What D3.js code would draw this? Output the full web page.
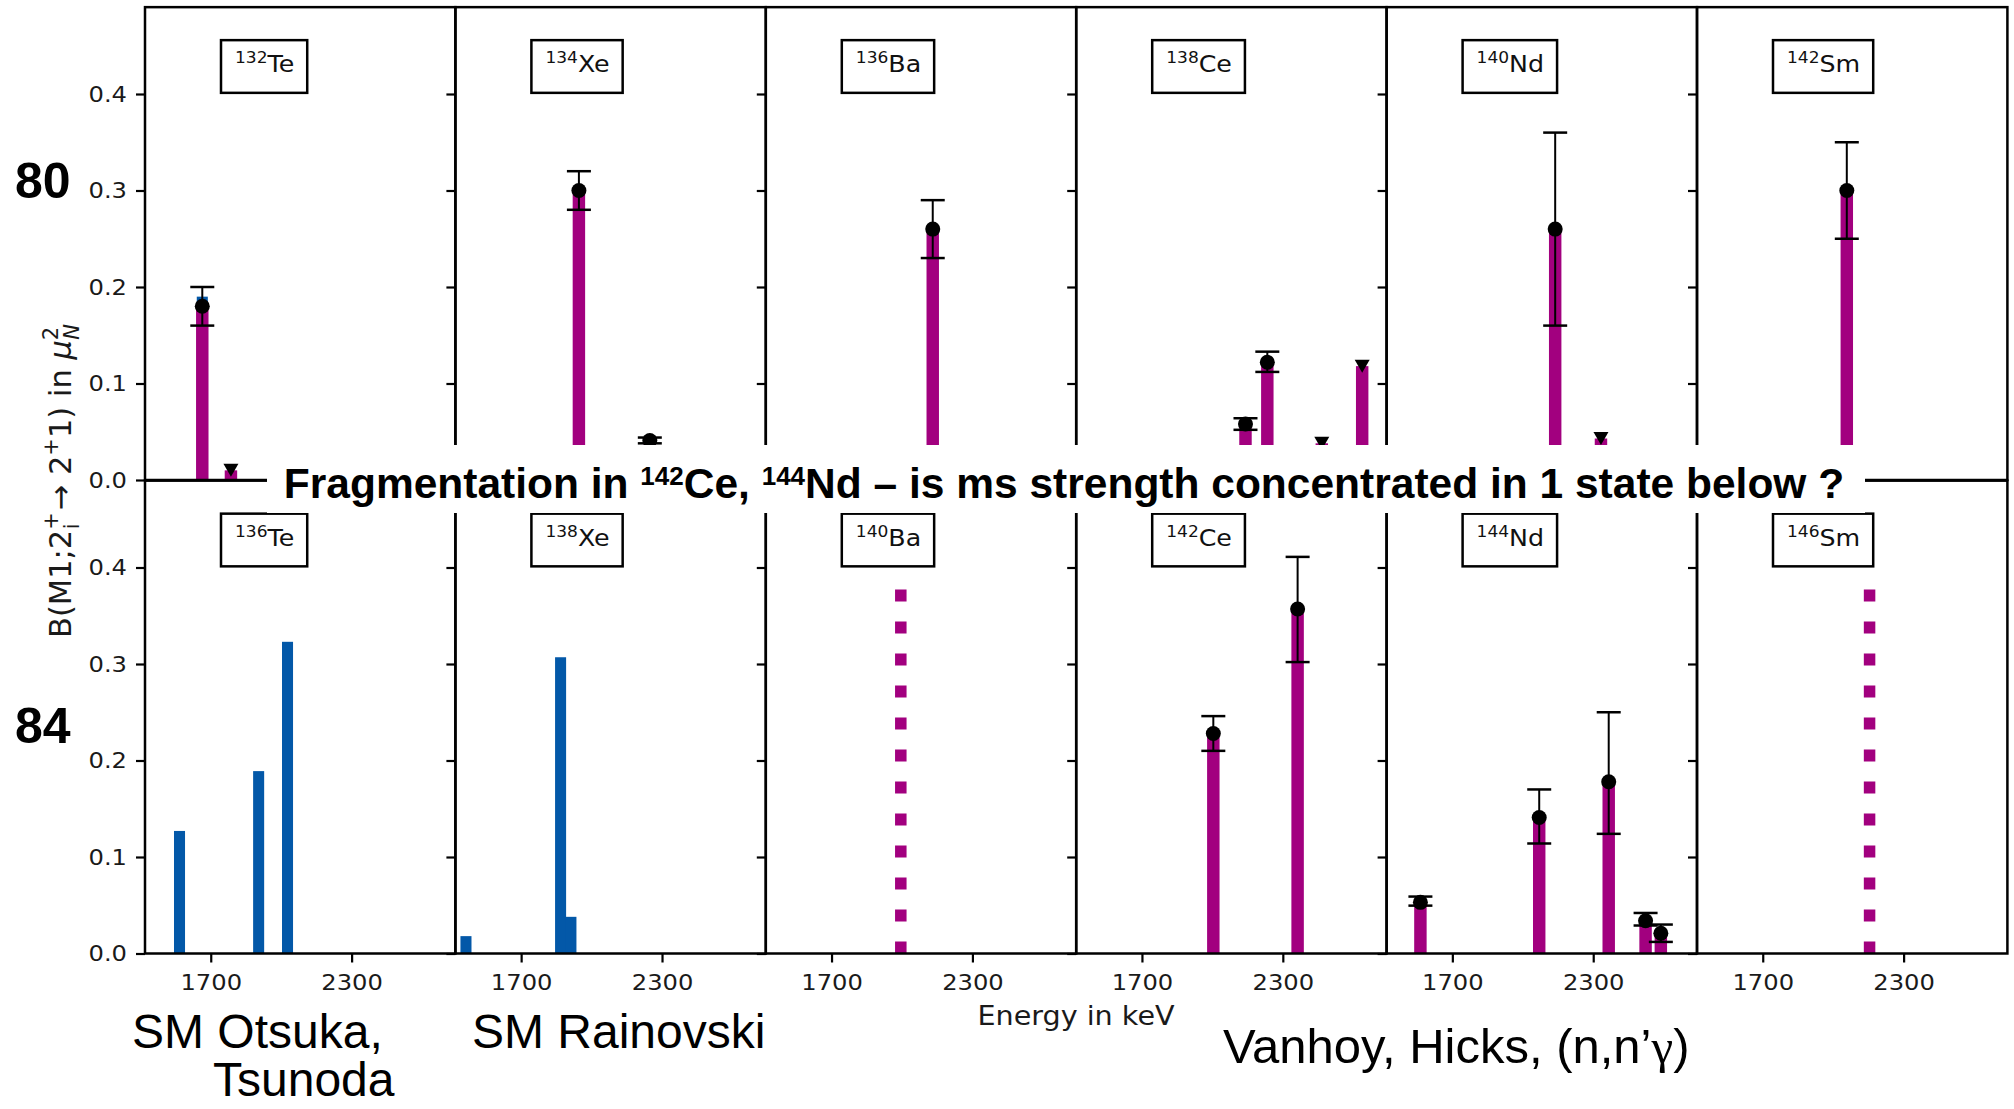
<!DOCTYPE html>
<html><head><meta charset="utf-8">
<script src="https://cdn.jsdelivr.net/npm/d3@7"></script>
<style>body{margin:0;background:#fff}svg{display:block}</style>
</head><body>
<svg id="chart" width="2014" height="1109"></svg>
<script>
// ---------- data ----------
const energyDomain = [1420, 2742];
const bDomain = [0, 0.49];
const yTicks = [0, 0.1, 0.2, 0.3, 0.4];
const xTicks = [1700, 2300];
const topMass = ["132", "134", "136", "138", "140", "142"];
const botMass = ["136", "138", "140", "142", "144", "146"];
const elements = ["Te", "Xe", "Ba", "Ce", "Nd", "Sm"];
const rowLabels = ["80", "84"];
// shell-model bars: [row, panel, energy keV, B(M1)]
const smBars = [
  [0, 0, 1664, 0.19],
  [1, 0, 1567, 0.127], [1, 0, 1904, 0.189], [1, 0, 2027, 0.323],
  [1, 1, 1465, 0.018], [1, 1, 1868, 0.307], [1, 1, 1912, 0.038]
];
// measured values: [row, panel, energy keV, B(M1), lower, upper]
const expPoints = [
  [0, 0, 1664, 0.18, 0.16, 0.20],
  [0, 1, 1946, 0.30, 0.28, 0.32],
  [0, 1, 2248, 0.041, 0.038, 0.044],
  [0, 2, 2131, 0.26, 0.23, 0.29],
  [0, 3, 2141, 0.058, 0.052, 0.064],
  [0, 3, 2234, 0.122, 0.112, 0.133],
  [0, 4, 2138, 0.26, 0.16, 0.36],
  [0, 5, 2058, 0.30, 0.25, 0.35],
  [1, 3, 2004, 0.228, 0.210, 0.246],
  [1, 3, 2363, 0.357, 0.302, 0.411],
  [1, 4, 1564, 0.053, 0.0496, 0.059],
  [1, 4, 2070, 0.141, 0.114, 0.170],
  [1, 4, 2366, 0.178, 0.124, 0.250],
  [1, 4, 2523, 0.034, 0.029, 0.042],
  [1, 4, 2588, 0.021, 0.012, 0.030]
];
// upper limits: [row, panel, energy keV, B(M1)]
const expLimits = [
  [0, 0, 1786, 0.010], [0, 3, 2466, 0.038], [0, 3, 2638, 0.118], [0, 4, 2333, 0.043]
];
// expected (unmeasured) states: [row, panel, energy keV, B(M1)]
const expectedLines = [[1, 2, 1995, 0.38], [1, 5, 2155, 0.38]];

// ---------- layout ----------
const MAG = "#a2007f", BLUE = "#0358a8";
const plotLeft = 145, panelW = 310.4, nPanels = 6;
const rowBase = [480, 953.5];
const pxPerUnit = 965;
const rowTop = rowBase.map(b => b - bDomain[1] * pxPerUnit);
const MPL = "'DejaVu Sans', sans-serif";
const ARIAL = "'Liberation Sans', Arial, sans-serif";
const SX = 1.1;

const svg = d3.select("#chart");
svg.append("rect").attr("width", 2014).attr("height", 1109).attr("fill", "#fff");

const xS = d3.range(nPanels).map(i => d3.scaleLinear().domain(energyDomain)
  .range([plotLeft + i * panelW, plotLeft + (i + 1) * panelW]));
const yS = rowBase.map((b, r) => d3.scaleLinear().domain(bDomain).range([b, rowTop[r]]));

const marks = svg.append("g");
const barW = (x, e, kev) => x(e + kev / 2) - x(e - kev / 2);

// blue shell-model bars
marks.selectAll(".sm").data(smBars).join("rect")
  .attr("x", d => xS[d[1]](d[2]) - barW(xS[d[1]], d[2], 47) / 2)
  .attr("width", d => barW(xS[d[1]], d[2], 47))
  .attr("y", d => yS[d[0]](d[3]))
  .attr("height", d => yS[d[0]](0) - yS[d[0]](d[3]))
  .attr("fill", BLUE);

// magenta measured bars
const expBars = expPoints.map(d => d.slice(0, 4)).concat(expLimits);
marks.selectAll(".ex").data(expBars).join("rect")
  .attr("x", d => xS[d[1]](d[2]) - barW(xS[d[1]], d[2], 53) / 2)
  .attr("width", d => barW(xS[d[1]], d[2], 53))
  .attr("y", d => yS[d[0]](d[3]))
  .attr("height", d => yS[d[0]](0) - yS[d[0]](d[3]))
  .attr("fill", MAG);

// expected dotted lines
marks.selectAll(".exp").data(expectedLines).join("line")
  .attr("x1", d => xS[d[1]](d[2])).attr("x2", d => xS[d[1]](d[2]))
  .attr("y1", d => yS[d[0]](0)).attr("y2", d => yS[d[0]](d[3]))
  .attr("stroke", MAG).attr("stroke-width", 11.5).attr("stroke-dasharray", "12,20");

// error bars
const eb = marks.selectAll(".eb").data(expPoints).join("g");
eb.append("line")
  .attr("x1", d => xS[d[1]](d[2])).attr("x2", d => xS[d[1]](d[2]))
  .attr("y1", d => yS[d[0]](d[4])).attr("y2", d => yS[d[0]](d[5]))
  .attr("stroke", "#000").attr("stroke-width", 2);
[4, 5].forEach(k => eb.append("line")
  .attr("x1", d => xS[d[1]](d[2]) - 12).attr("x2", d => xS[d[1]](d[2]) + 12)
  .attr("y1", d => yS[d[0]](d[k])).attr("y2", d => yS[d[0]](d[k]))
  .attr("stroke", "#000").attr("stroke-width", 2.5));
eb.append("circle")
  .attr("cx", d => xS[d[1]](d[2])).attr("cy", d => yS[d[0]](d[3]))
  .attr("r", 7.5).attr("fill", "#000");
// upper-limit triangles
marks.selectAll(".lim").data(expLimits).join("path")
  .attr("d", d => {
    const cx = xS[d[1]](d[2]), cy = yS[d[0]](d[3]);
    return `M${cx - 7.5},${cy - 6.5}L${cx + 7.5},${cy - 6.5}L${cx},${cy + 6.5}Z`;
  })
  .attr("fill", "#000");

// ---------- axes & frames ----------
const axes = svg.append("g");
[0, 1].forEach(r => {
  d3.range(nPanels).forEach(i => {
    const x = xS[i], y = yS[r];
    axes.append("rect")
      .attr("x", x.range()[0]).attr("y", y.range()[1])
      .attr("width", x.range()[1] - x.range()[0]).attr("height", y.range()[0] - y.range()[1])
      .attr("fill", "none").attr("stroke", "#000").attr("stroke-width", 2.5);
    const ya = axes.append("g").attr("transform", `translate(${x.range()[0]},0)`)
      .call(d3.axisLeft(y).tickValues(yTicks).tickSize(9).tickSizeOuter(0)
        .tickFormat(i === 0 ? d3.format(".1f") : () => ""));
    ya.select(".domain").remove();
    ya.selectAll("line").attr("stroke-width", 2.2);
    ya.selectAll("text").attr("font-family", MPL).attr("font-size", 22).attr("fill", "#1a1a1a")
      .attr("x", -18 / SX).attr("transform", `scale(${SX},1)`);
    if (r === 1) {
      const xa = axes.append("g").attr("transform", `translate(0,${y.range()[0]})`)
        .call(d3.axisBottom(x).tickValues(xTicks).tickSize(9).tickSizeOuter(0).tickFormat(d3.format("d")));
      xa.select(".domain").remove();
      xa.selectAll("line").attr("stroke-width", 2.2);
      xa.selectAll("text").attr("font-family", MPL).attr("font-size", 22).attr("fill", "#1a1a1a")
        .attr("y", 36.5).attr("dy", 0).attr("x", 0)
        .attr("transform", `scale(${SX},1)`);
    }
  });
});

// ---------- nucleus boxes ----------
[[topMass, 0], [botMass, 1]].forEach(([masses, r]) => {
  masses.forEach((m, i) => {
    const bx = xS[i].range()[0] + 76, by = yS[r].range()[1] + 33;
    const g = svg.append("g");
    const rect = g.append("rect").attr("x", bx).attr("y", by).attr("height", 52.7)
      .attr("fill", "#fff").attr("stroke", "#000").attr("stroke-width", 2.5);
    const tg = g.append("g").attr("transform", `translate(${bx + 14},${by + 32}) scale(${SX},1)`);
    const t = tg.append("text").attr("font-family", MPL).attr("fill", "#111");
    t.append("tspan").attr("font-size", 15.5).attr("dy", -9).text(m);
    t.append("tspan").attr("font-size", 23).attr("dy", 9).text(elements[i]);
    const w = t.node().getComputedTextLength() * SX;
    rect.attr("width", w + 27);
  });
});

// ---------- title band ----------
svg.append("rect").attr("x", 267).attr("y", 445).attr("width", 1598).attr("height", 68).attr("fill", "#fff");
const title = svg.append("text").attr("x", 1064).attr("y", 498).attr("text-anchor", "middle")
  .attr("font-family", ARIAL).attr("font-weight", "bold").attr("font-size", 42.5).attr("fill", "#000");
title.append("tspan").text("Fragmentation in ");
title.append("tspan").attr("font-size", 26).attr("dy", -13).text("142");
title.append("tspan").attr("dy", 13).text("Ce, ");
title.append("tspan").attr("font-size", 26).attr("dy", -13).text("144");
title.append("tspan").attr("dy", 13).text("Nd \u2013 is ms strength concentrated in 1 state below ?");

// ---------- row labels ----------
rowLabels.forEach((t, r) => svg.append("text").attr("x", 15).attr("y", r === 0 ? 198 : 743)
  .attr("font-family", ARIAL).attr("font-weight", "bold").attr("font-size", 50).text(t));

// ---------- y label ----------
const yl = svg.append("text").attr("transform", "translate(71,481) rotate(-90)")
  .attr("text-anchor", "middle").attr("font-family", MPL).attr("font-size", 30.5).attr("fill", "#1a1a1a");
yl.append("tspan").text("B(M1;2");
yl.append("tspan").attr("font-size", 21).attr("dy", -13).text("+");
yl.append("tspan").attr("font-size", 21).attr("dx", -17).attr("dy", 21).text("i");
yl.append("tspan").attr("dx", 13).attr("dy", -8).text("\u2192 2");
yl.append("tspan").attr("font-size", 21).attr("dy", -13).text("+");
yl.append("tspan").attr("dy", 13).text("1) in ");
yl.append("tspan").attr("font-style", "italic").text("\u03bc");
yl.append("tspan").attr("font-size", 21).attr("dy", -13).text("2");
yl.append("tspan").attr("font-size", 21).attr("font-style", "italic").attr("dx", -13).attr("dy", 21).text("N");

// ---------- x label ----------
svg.append("g").attr("transform", `translate(1076,1025) scale(${SX},1)`)
  .append("text").attr("text-anchor", "middle").attr("font-family", MPL)
  .attr("font-size", 26).attr("fill", "#1a1a1a").text("Energy in keV");

// ---------- source annotations ----------
const notes = [
  ["SM Otsuka,", 132, 1048], ["Tsunoda", 213, 1096], ["SM Rainovski", 472, 1048]
];
notes.forEach(n => svg.append("text").attr("x", n[1]).attr("y", n[2])
  .attr("font-family", ARIAL).attr("font-size", 48).attr("fill", "#000").text(n[0]));
const vh = svg.append("text").attr("x", 1223).attr("y", 1063)
  .attr("font-family", ARIAL).attr("font-size", 49).attr("fill", "#000");
vh.append("tspan").text("Vanhoy, Hicks, (n,n\u2019");
vh.append("tspan").attr("font-family", "'Liberation Serif', serif").text("\u03b3");
vh.append("tspan").text(")");
</script>
</body></html>
